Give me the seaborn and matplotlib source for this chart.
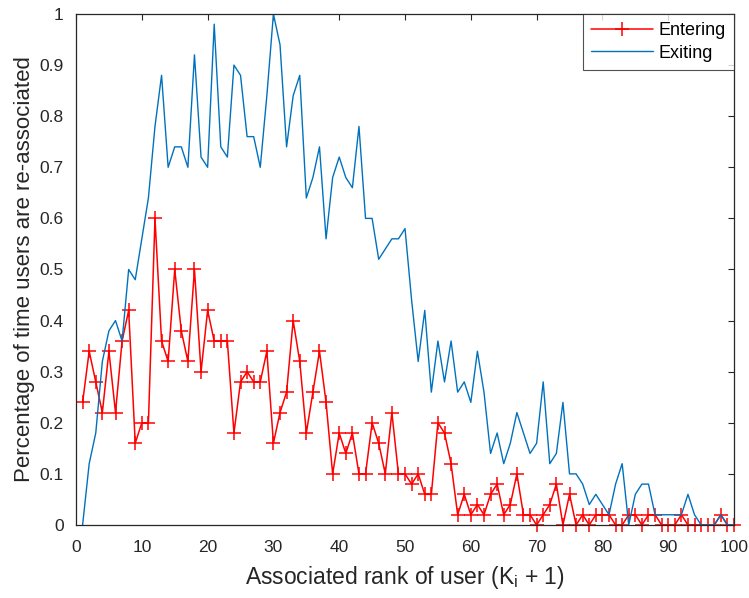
import numpy as np
import pandas as pd
import matplotlib
matplotlib.use("Agg")
import matplotlib.pyplot as plt
import seaborn as sns

# Associated rank of user (K_i + 1)
rank = list(range(1, 101))

# Fraction of times a user is re-associated, users entering the set
entering = [
    0.24, 0.34, 0.28, 0.22, 0.34, 0.22, 0.36, 0.42, 0.16, 0.20,
    0.20, 0.60, 0.36, 0.32, 0.50, 0.38, 0.32, 0.50, 0.30, 0.42,
    0.36, 0.36, 0.36, 0.18, 0.28, 0.30, 0.28, 0.28, 0.34, 0.16,
    0.22, 0.26, 0.40, 0.32, 0.18, 0.26, 0.34, 0.24, 0.10, 0.18,
    0.14, 0.18, 0.10, 0.10, 0.20, 0.16, 0.10, 0.22, 0.10, 0.10,
    0.08, 0.10, 0.06, 0.06, 0.20, 0.18, 0.12, 0.02, 0.06, 0.02,
    0.04, 0.02, 0.06, 0.08, 0.02, 0.04, 0.10, 0.02, 0.02, 0.00,
    0.02, 0.04, 0.08, 0.00, 0.06, 0.00, 0.02, 0.00, 0.02, 0.02,
    0.02, 0.00, 0.00, 0.02, 0.02, 0.00, 0.02, 0.02, 0.00, 0.00,
    0.00, 0.02, 0.00, 0.00, 0.00, 0.00, 0.00, 0.02, 0.00, 0.00,
]

# Fraction of times a user is re-associated, users exiting the set
exiting = [
    0.00, 0.12, 0.18, 0.32, 0.38, 0.40, 0.36, 0.50, 0.48, 0.56,
    0.64, 0.78, 0.88, 0.70, 0.74, 0.74, 0.70, 0.92, 0.72, 0.70,
    0.98, 0.74, 0.72, 0.90, 0.88, 0.76, 0.76, 0.70, 0.84, 1.00,
    0.94, 0.74, 0.84, 0.88, 0.64, 0.68, 0.74, 0.56, 0.68, 0.72,
    0.68, 0.66, 0.78, 0.60, 0.60, 0.52, 0.54, 0.56, 0.56, 0.58,
    0.44, 0.32, 0.42, 0.26, 0.36, 0.28, 0.36, 0.26, 0.28, 0.24,
    0.34, 0.26, 0.14, 0.18, 0.12, 0.16, 0.22, 0.18, 0.14, 0.16,
    0.28, 0.12, 0.14, 0.24, 0.10, 0.10, 0.08, 0.04, 0.06, 0.04,
    0.02, 0.08, 0.12, 0.00, 0.06, 0.08, 0.08, 0.02, 0.02, 0.02,
    0.02, 0.02, 0.06, 0.02, 0.00, 0.00, 0.00, 0.02, 0.00, 0.00,
]

x_ticks = list(range(0, 101, 10))
y_ticks = [0, 0.1, 0.2, 0.3, 0.4, 0.5, 0.6, 0.7, 0.8, 0.9, 1]
y_tick_labels = ["0", "0.1", "0.2", "0.3", "0.4", "0.5", "0.6", "0.7", "0.8", "0.9", "1"]

sns.set_style("white")
plt.rcParams["font.family"] = ["Liberation Sans", "DejaVu Sans"]
plt.rcParams["mathtext.fontset"] = "custom"
plt.rcParams["mathtext.rm"] = "Liberation Sans"
plt.rcParams["mathtext.it"] = "Liberation Sans"

ink = "#262626"
blue = "#0072BD"

fig = plt.figure(figsize=(7.49, 5.98), dpi=100)
ax = fig.add_axes([0.1015, 0.1221, 0.8785, 0.8545])

df = pd.DataFrame({"rank": rank, "Entering": entering, "Exiting": exiting})

sns.lineplot(data=df, x="rank", y="Entering", ax=ax, color="red",
             marker="+", markersize=9.5, markeredgewidth=1.1,
             markeredgecolor="red", markerfacecolor="red",
             linewidth=1.1, label="Entering", clip_on=False)
sns.lineplot(data=df, x="rank", y="Exiting", ax=ax, color=blue,
             linewidth=1.0, label="Exiting")

ax.set_xlim(0, 100)
ax.set_ylim(0, 1)
ax.set_xticks(x_ticks)
ax.set_yticks(y_ticks)
ax.set_yticklabels(y_tick_labels)

ax.tick_params(direction="in", length=4.5, width=0.8, colors=ink,
               labelsize=12.5, top=True, right=True, labelcolor=ink)
ax.tick_params(axis="x", pad=11)
ax.tick_params(axis="y", pad=9)
for sp in ax.spines.values():
    sp.set_visible(True)
    sp.set_color(ink)
    sp.set_linewidth(0.9)

ax.set_xlabel("Associated rank of user (K$_{\\mathrm{i}}$ + 1)", fontsize=16.5,
              color=ink, labelpad=6)
ax.set_ylabel("Percentage of time users are re-associated", fontsize=16,
              color=ink)
ax.yaxis.set_label_coords(-0.062, 0.5)

leg = ax.legend(loc="upper right", fontsize=13, frameon=True, fancybox=False,
                borderaxespad=0, handlelength=3.4, handletextpad=0.33,
                borderpad=0.45, labelspacing=0.3, numpoints=1)
leg.get_frame().set_edgecolor(ink)
leg.get_frame().set_linewidth(0.8)
for t in leg.get_texts():
    t.set_color("black")

fig.savefig("out.png", dpi=100)
